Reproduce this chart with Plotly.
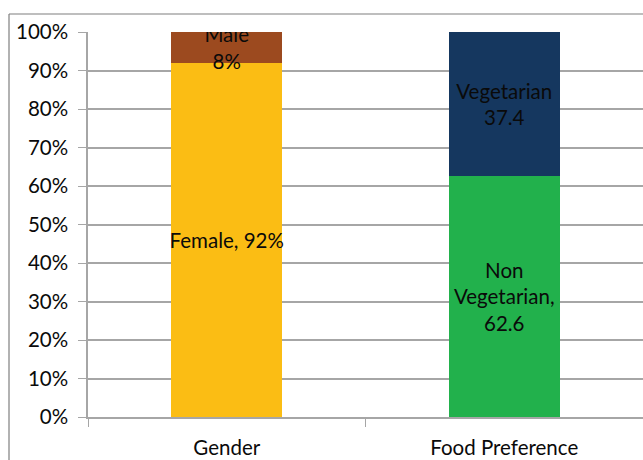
import plotly.graph_objects as go

# Survey composition, in percent of respondents
categories = ["Gender", "Food Preference"]
segments = ["Female", "Male", "Non Vegetarian", "Vegetarian"]
segment_category = ["Gender", "Gender", "Food Preference", "Food Preference"]
segment_values = [92, 8, 62.6, 37.4]
segment_labels = ["Female, 92%", "Male<br>8%", "Non<br>Vegetarian,<br>62.6", "Vegetarian<br>37.4"]
segment_colors = ["#FBBD14", "#9C4A1F", "#22B14C", "#15375F"]
y_ticks = [0, 10, 20, 30, 40, 50, 60, 70, 80, 90, 100]
y_tick_labels = [f"{v}%" for v in y_ticks]

FONT = "Lato"
FS = 20.5
TXT = "#0A0A0A"
AXIS_GREY = "#A6A6A6"

fig = go.Figure()
for name, cat, val, lab, col in zip(segments, segment_category, segment_values,
                                    segment_labels, segment_colors):
    fig.add_trace(go.Bar(
        name=name,
        x=[cat],
        y=[val],
        text=[lab],
        texttemplate="%{text}",
        textposition="inside",
        insidetextanchor="middle",
        constraintext="none",
        textangle=0,
        textfont=dict(family=FONT, size=FS, color=TXT),
        marker=dict(color=col, line=dict(width=0)),
        width=0.4,
        showlegend=False,
        hoverinfo="skip",
    ))

fig.update_layout(
    barmode="stack",
    width=643,
    height=460,
    margin=dict(l=88, r=0, t=32, b=43, autoexpand=False),
    paper_bgcolor="white",
    plot_bgcolor="white",
    font=dict(family=FONT, size=FS, color=TXT),
)

fig.update_xaxes(
    type="category",
    categoryorder="array",
    categoryarray=categories,
    range=[-0.5, 1.5],
    automargin=False,
    showline=True,
    linecolor=AXIS_GREY,
    linewidth=1.5,
    ticks="outside",
    tickson="boundaries",
    ticklen=8,
    tickcolor=AXIS_GREY,
    showgrid=False,
    ticklabelstandoff=12,
    tickfont=dict(family=FONT, size=FS, color=TXT),
)

fig.update_yaxes(
    range=[0, 100],
    tickvals=y_ticks,
    ticktext=y_tick_labels,
    automargin=False,
    showline=True,
    linecolor=AXIS_GREY,
    linewidth=1.5,
    ticks="outside",
    ticklen=8,
    tickcolor=AXIS_GREY,
    showgrid=True,
    gridcolor=AXIS_GREY,
    gridwidth=1.5,
    zeroline=False,
    ticklabelstandoff=6,
    tickfont=dict(family=FONT, size=FS, color=TXT),
)

# Outer chart frame: left and top edges, kept within the figure area
frame_left = (9 - 88) / 555
frame_top = 1 + (32 - 14) / 385
frame_bottom = -43 / 385
fig.add_shape(type="line", xref="paper", yref="paper",
              x0=frame_left, x1=frame_left, y0=frame_bottom, y1=frame_top,
              line=dict(color="#7F7F7F", width=1.2))
fig.add_shape(type="line", xref="paper", yref="paper",
              x0=frame_left, x1=1.0, y0=frame_top, y1=frame_top,
              line=dict(color="#7F7F7F", width=1.2))

fig.write_html("out.html")
